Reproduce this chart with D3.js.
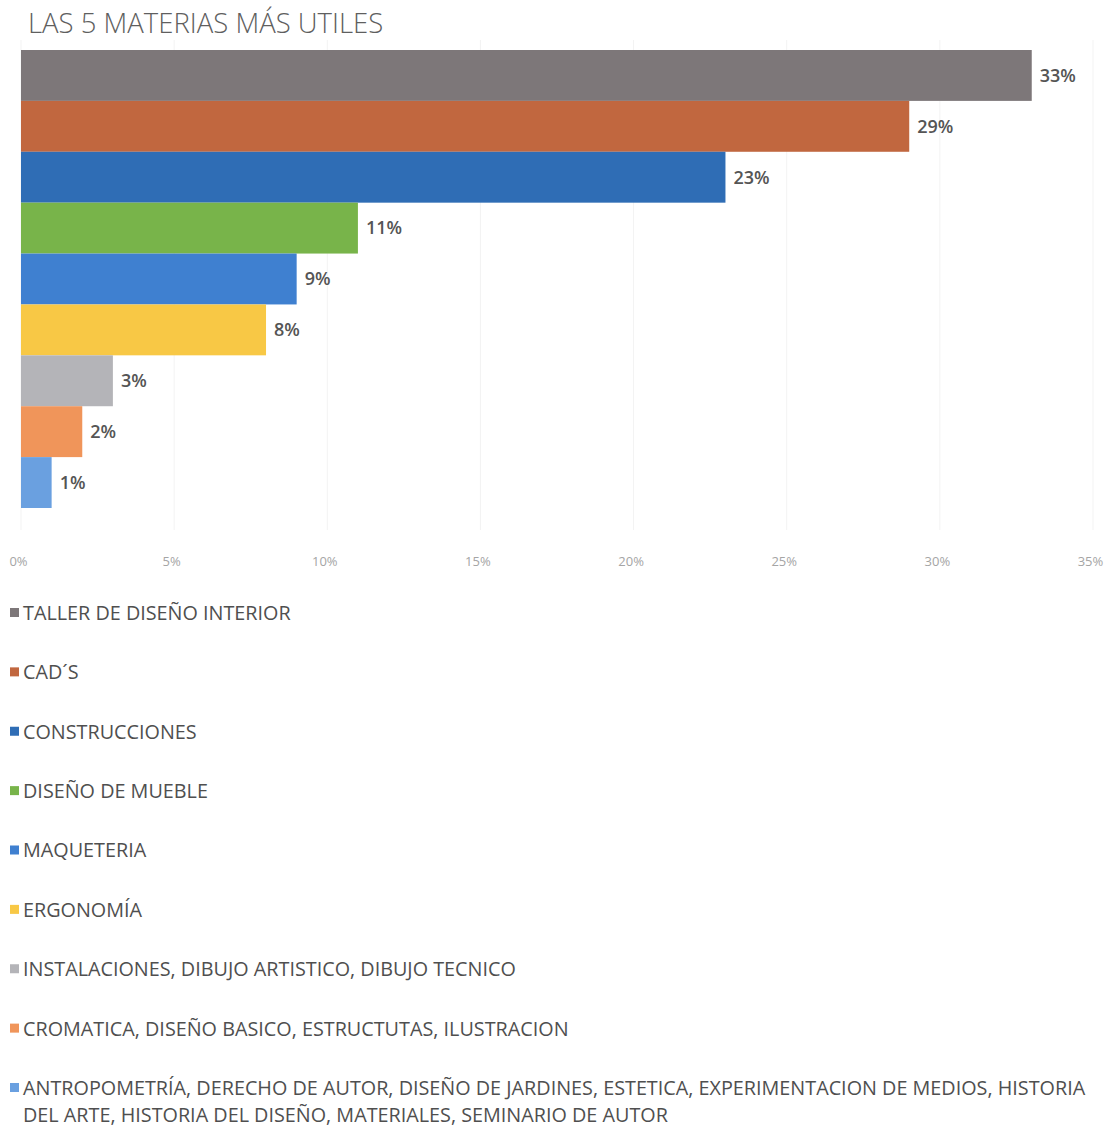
<!DOCTYPE html>
<html lang="es">
<head>
    <meta charset="UTF-8">
    <title>Las 5 materias más útiles</title>
    <script src="https://d3js.org/d3.v7.min.js"></script>
    <style>
        body {
            margin: 0;
            padding: 0;
            background: #fff;
            font-family: "Open Sans", Arial, sans-serif;
        }
    </style>
</head>
<body>
    <svg width="1107" height="1128"></svg>

    <script>
        // datos
        const categories = [
            "TALLER DE DISEÑO INTERIOR",
            "CAD´S",
            "CONSTRUCCIONES",
            "DISEÑO DE MUEBLE",
            "MAQUETERIA",
            "ERGONOMÍA",
            "INSTALACIONES, DIBUJO ARTISTICO, DIBUJO TECNICO",
            "CROMATICA, DISEÑO BASICO, ESTRUCTUTAS, ILUSTRACION",
            "ANTROPOMETRÍA, DERECHO DE AUTOR, DISEÑO DE JARDINES, ESTETICA, EXPERIMENTACION DE MEDIOS, HISTORIA DEL ARTE, HISTORIA DEL DISEÑO, MATERIALES, SEMINARIO DE AUTOR"
        ];
        const values = [33, 29, 23, 11, 9, 8, 3, 2, 1];
        const ticks = [0, 5, 10, 15, 20, 25, 30, 35];
        const palette = ["#7d7779", "#c1673f", "#2f6db5", "#78b44a", "#3f80d0",
                         "#f8c845", "#b4b4b8", "#f0955a", "#6aa0e0"];

        const svg = d3.select("svg");

        svg.append("text")
            .attr("x", 28)
            .attr("y", 33)
            .attr("font-size", 27.5)
            .attr("font-weight", 300)
            .attr("fill", "#5f5f5f")
            .text("LAS 5 MATERIAS MÁS UTILES");

        const x = d3.scaleLinear().domain([0, 35]).range([21, 1093]);
        const y = d3.scaleBand()
            .domain(categories)
            .range([50, 508])
            .padding(0);

        // lineas de cuadricula muy tenues
        svg.append("g")
            .selectAll("line")
            .data(ticks)
            .enter()
            .append("line")
            .attr("x1", d => x(d))
            .attr("x2", d => x(d))
            .attr("y1", 40)
            .attr("y2", 530)
            .attr("stroke", "#f3f3f3");

        svg.append("g")
            .selectAll("rect")
            .data(values)
            .enter()
            .append("rect")
            .attr("x", x(0))
            .attr("y", (d, i) => y(categories[i]))
            .attr("width", d => x(d) - x(0))
            .attr("height", y.bandwidth())
            .attr("fill", (d, i) => palette[i]);

        svg.append("g")
            .selectAll("text")
            .data(values)
            .enter()
            .append("text")
            .attr("x", d => x(d) + 8)
            .attr("y", (d, i) => y(categories[i]) + y.bandwidth() / 2)
            .attr("dy", "0.35em")
            .attr("font-size", 18)
            .attr("font-weight", 600)
            .attr("fill", "#555")
            .text(d => d + "%");

        const axis = svg.append("g")
            .attr("transform", "translate(-3,554)")
            .call(d3.axisBottom(x).tickValues(ticks).tickSize(0).tickFormat(d => d + "%"));
        axis.select(".domain").remove();
        axis.selectAll("text")
            .attr("font-family", "'Open Sans', sans-serif")
            .attr("font-size", 13)
            .attr("fill", "#a5a5a5");

        // leyenda
        const legend = svg.append("g");
        const itemY = d3.scaleLinear().domain([0, 8]).range([613, 1088]);

        categories.forEach(function(c, i) {
            const g = legend.append("g")
                .attr("transform", `translate(0,${itemY(i)})`);
            g.append("rect")
                .attr("x", 10)
                .attr("y", -5)
                .attr("width", 9)
                .attr("height", 9)
                .attr("fill", palette[i]);
            const t = g.append("text")
                .attr("x", 23)
                .attr("dy", "0.35em")
                .attr("font-size", 19.8)
                .attr("fill", "#4f4f4f");

            // partir el texto largo en lineas
            const words = c.split(" ");
            let line = [];
            let tspan = t.append("tspan").attr("x", 23);
            words.forEach(function(w) {
                line.push(w);
                tspan.text(line.join(" "));
                if (tspan.node().getComputedTextLength() > 1075 && line.length > 1) {
                    line.pop();
                    tspan.text(line.join(" "));
                    line = [w];
                    tspan = t.append("tspan")
                        .attr("x", 23)
                        .attr("dy", 27)
                        .text(w);
                }
            });
        });
    </script>
</body>
</html>
